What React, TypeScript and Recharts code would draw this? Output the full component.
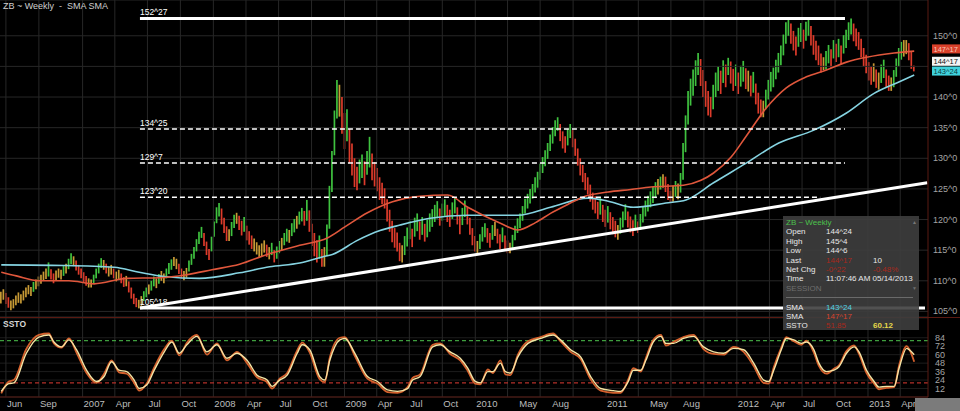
import React from 'react';
import {
  ComposedChart,
  Bar,
  Cell,
  Line,
  XAxis,
  YAxis,
  CartesianGrid,
  ReferenceLine,
} from 'recharts';

// weekly bars as [low, high]; week 0 = week of 19 May 2006
const bars2006: [number, number][] = [
  [106.3, 108.2], [106.9, 108.6], [106.2, 108.0], [105.6, 107.3], [105.2, 106.8], [105.5, 107.0], [106.0, 107.6], [106.4, 108.1], [106.3, 107.8], [106.8, 108.4],
  [107.3, 108.9], [107.8, 109.3], [107.5, 109.0], [108.2, 109.8], [108.6, 110.2], [109.1, 110.7], [109.5, 111.0], [110.0, 111.5], [110.3, 112.0], [110.7, 113.0],
  [110.2, 111.9], [109.6, 111.2], [110.1, 111.7], [110.5, 112.0], [110.2, 111.8], [110.8, 112.4], [111.2, 112.8], [111.9, 113.6], [112.7, 114.5], [112.4, 114.0],
  [111.7, 113.3], [111.0, 112.6], [110.4, 112.0],
];
const bars2007: [number, number][] = [
  [109.8, 111.4], [109.2, 110.8], [108.9, 110.4], [108.9, 110.2], [109.5, 111.0], [110.4, 112.0], [111.2, 112.8], [112.1, 113.7], [111.8, 113.4], [111.2, 112.8],
  [110.7, 112.3], [111.0, 112.6], [110.4, 112.0], [109.9, 111.5], [110.2, 111.8], [109.6, 111.2], [109.0, 110.6], [109.1, 110.8], [108.1, 109.9], [107.1, 108.9],
  [106.2, 107.9], [105.7, 107.2], [105.5, 106.9], [105.9, 107.5], [106.7, 108.3], [107.3, 108.9], [107.8, 109.4], [108.4, 110.0], [109.1, 110.7], [108.8, 110.4],
  [109.5, 111.1], [110.0, 111.6], [109.6, 111.2], [110.4, 112.0], [111.1, 112.9], [111.8, 113.5], [112.4, 113.9], [111.9, 113.6], [111.1, 112.8], [110.4, 112.0],
  [110.1, 111.6], [110.5, 112.1], [111.5, 113.3], [112.6, 114.4], [113.6, 115.5], [114.8, 116.8], [116.0, 118.0], [117.0, 118.8], [115.7, 117.8], [114.2, 116.4],
  [113.4, 115.2], [114.8, 117.2],
];
const bars2008: [number, number][] = [
  [117.2, 119.7], [119.4, 122.0], [120.5, 122.7], [119.2, 121.8], [117.8, 120.3], [116.5, 118.9], [116.5, 118.4], [117.3, 119.6], [118.6, 120.8], [119.3, 121.1],
  [118.3, 120.6], [117.4, 119.8], [118.0, 120.4], [116.6, 119.0], [115.9, 118.1], [115.2, 117.4], [114.8, 116.9], [114.3, 116.3], [113.9, 115.8], [114.0, 116.1],
  [114.6, 116.6], [113.9, 115.9], [113.5, 115.5], [114.2, 116.2], [113.0, 115.0], [113.6, 115.6], [114.5, 116.5], [115.0, 117.0], [115.8, 117.8], [116.4, 118.5],
  [116.2, 118.3], [117.3, 119.4], [117.9, 120.1], [118.5, 120.6], [119.2, 121.3], [119.7, 121.9], [119.0, 121.4], [119.8, 123.2], [118.0, 121.5], [115.7, 119.3],
  [114.0, 117.8], [113.0, 116.6], [113.6, 117.4], [112.3, 115.2], [112.3, 115.5], [114.0, 119.2], [118.5, 125.5], [124.5, 131.2], [130.5, 137.8], [136.5, 142.8],
  [136.8, 142.0], [134.0, 140.0],
];
const bars2009: [number, number][] = [
  [131.5, 137.4], [132.8, 138.0], [129.2, 134.8], [127.2, 132.4], [125.3, 130.0], [124.8, 128.6], [125.9, 129.8], [126.8, 130.6], [125.6, 129.5], [127.3, 131.2],
  [128.5, 133.5], [126.4, 130.8], [125.4, 129.4], [124.6, 128.4], [123.2, 126.9], [122.5, 126.0], [121.8, 125.1], [119.7, 123.3], [118.0, 121.6], [116.3, 119.8],
  [115.4, 118.6], [114.8, 117.9], [113.2, 116.2], [113.0, 115.8], [114.2, 117.3], [115.6, 118.7], [116.8, 119.8], [115.5, 118.5], [117.2, 120.3], [118.1, 121.0],
  [116.7, 119.7], [117.5, 120.4], [116.4, 119.3], [117.1, 120.0], [118.0, 121.0], [118.8, 121.7], [119.6, 122.4], [120.2, 123.0], [119.0, 121.8], [119.8, 122.6],
  [120.6, 123.3], [119.6, 122.4], [118.8, 121.6], [120.1, 122.8], [121.0, 123.6], [119.2, 122.0], [117.6, 120.6], [119.1, 121.9], [120.4, 123.1], [119.2, 122.0],
  [117.5, 120.3], [115.8, 118.6],
];
const bars2010: [number, number][] = [
  [114.8, 117.3], [114.5, 116.5], [115.2, 117.6], [116.4, 118.8], [117.1, 119.4], [116.2, 118.6], [115.4, 117.8], [116.7, 119.1], [117.3, 119.6], [116.1, 118.5],
  [115.2, 117.6], [116.3, 118.7], [115.0, 117.4], [114.5, 116.6], [114.5, 116.2], [115.2, 117.5], [116.6, 119.0], [117.8, 120.2], [118.6, 121.0], [119.8, 122.2],
  [121.0, 123.4], [121.8, 124.2], [122.6, 125.0], [123.4, 125.8], [124.4, 126.9], [125.2, 127.8], [126.5, 129.1], [127.6, 130.2], [128.7, 131.3], [129.9, 132.5],
  [131.2, 133.9], [132.4, 135.1], [133.6, 136.2], [134.5, 136.7], [132.8, 135.6], [131.6, 134.4], [130.9, 133.6], [132.1, 134.8], [133.3, 135.6], [131.8, 134.6],
  [130.4, 133.2], [128.8, 131.6], [127.2, 130.0], [126.1, 128.9], [124.8, 127.6], [124.1, 126.9], [122.9, 125.7], [121.6, 124.4], [121.0, 123.8], [120.1, 122.9],
  [120.8, 123.5], [119.6, 122.4],
];
const bars2011: [number, number][] = [
  [118.8, 121.6], [119.5, 122.2], [118.4, 121.2], [117.6, 120.4], [117.1, 119.8], [116.7, 119.1], [117.7, 120.3], [118.7, 121.3], [119.9, 122.5], [118.7, 121.3],
  [117.9, 120.5], [117.3, 119.9], [118.2, 120.8], [117.8, 119.7], [118.3, 120.9], [119.5, 122.1], [120.5, 123.1], [121.3, 123.9], [122.0, 124.6], [122.7, 125.3],
  [123.5, 126.1], [124.1, 126.6], [124.9, 127.0], [125.2, 127.4], [124.5, 127.0], [123.2, 125.8], [122.7, 124.7], [122.9, 125.5], [123.7, 126.3], [123.3, 125.9],
  [124.4, 127.6], [126.5, 132.5], [131.0, 137.0], [135.5, 141.0], [138.6, 143.0], [140.2, 144.5], [141.8, 146.0], [143.6, 147.2], [141.8, 146.2], [140.0, 144.4],
  [138.4, 142.6], [137.0, 141.0], [136.7, 140.0], [138.0, 142.0], [140.0, 144.0], [141.0, 145.0], [140.5, 144.3], [142.3, 146.0], [141.6, 145.3], [143.6, 146.4],
  [142.2, 145.8], [141.0, 144.6], [141.8, 145.3],
];
const bars2012: [number, number][] = [
  [140.5, 144.0], [141.7, 145.1], [142.5, 145.9], [141.3, 144.7], [140.9, 144.3], [140.1, 143.5], [140.7, 144.1], [138.8, 142.2], [137.3, 140.7], [136.7, 139.6],
  [136.7, 139.4], [138.0, 141.2], [139.6, 142.8], [140.9, 144.1], [141.6, 144.8], [142.9, 146.1], [144.0, 147.2], [145.2, 148.4], [146.8, 150.2], [148.7, 152.2],
  [150.0, 152.8], [148.7, 152.0], [147.6, 150.8], [146.8, 149.9], [148.2, 151.3], [149.0, 152.1], [147.9, 151.0], [149.2, 152.3], [150.0, 152.8], [148.4, 151.6],
  [146.9, 150.1], [146.0, 149.2], [145.2, 148.4], [144.0, 147.1], [144.4, 146.5], [144.5, 147.5], [145.5, 148.5], [144.8, 147.8], [146.3, 149.3], [145.7, 148.7],
  [146.5, 149.5], [145.4, 148.4], [147.1, 150.1], [148.0, 151.0], [149.3, 152.2], [150.2, 152.8], [149.1, 152.0], [148.3, 151.2], [147.7, 150.6], [146.5, 149.5],
  [145.0, 148.0], [143.9, 146.9],
];
const bars2013: [number, number][] = [
  [142.7, 145.7], [142.0, 145.0], [142.5, 145.5], [141.5, 144.5], [141.2, 144.0], [142.3, 145.3], [143.1, 146.1], [141.5, 144.5], [141.0, 143.5], [141.0, 143.2],
  [141.6, 144.4], [143.3, 146.3], [145.0, 148.0], [146.1, 149.0], [146.6, 149.3], [147.0, 149.3], [146.0, 148.8], [144.6, 147.4], [144.19, 145.13],
];

// moving averages, [week, price]
const smaRed: [number, number][] = [
  [0, 111.4], [6, 110.8], [15, 110.0], [27, 110.0], [37, 109.5], [50, 110.4], [63, 110.5], [74, 111.0], [84, 111.8], [95, 112.7],
  [106, 114.3], [119, 115.8], [130, 117.0], [137, 118.8], [146, 121.1], [156, 122.9], [167, 123.8], [178, 124.0], [186, 122.0], [199, 119.4],
  [206, 118.3], [213, 119.5], [219, 121.0], [226, 122.5], [232, 123.7], [242, 124.5], [251, 124.9], [259, 125.3], [272, 125.6], [279, 126.4],
  [284, 127.6], [291, 130.2], [297, 133.6], [305, 138.2], [313, 141.5], [321, 143.3], [329, 144.4], [337, 145.7], [345, 146.5], [356, 147.2], [364, 147.5],
];
const smaCyan: [number, number][] = [
  [0, 112.6], [25, 112.5], [45, 112.2], [55, 111.4], [65, 110.7], [79, 110.4], [95, 111.3], [107, 112.3], [119, 112.9], [128, 113.9],
  [132, 114.3], [142, 116.6], [151, 118.2], [159, 119.1], [171, 120.2], [186, 120.7], [206, 120.7], [219, 122.0], [234, 123.5], [242, 123.0],
  [252, 122.0], [265, 122.7], [273, 123.2], [284, 126.0], [297, 129.2], [310, 132.5], [324, 134.6], [337, 137.4], [348, 140.6], [357, 142.3], [364, 143.6],
];

// slow stochastic, [week, value]
const sstoSlow: [number, number][] = [
  [0, 8], [3, 19], [5, 20], [10, 62], [15, 85], [19, 88], [21, 78], [24, 71], [27, 81], [30, 67], [34, 38], [38, 22], [41, 29], [44, 50], [47, 38],
  [50, 36], [53, 24], [55, 12], [58, 17], [61, 38], [65, 64], [68, 78], [71, 62], [74, 74], [78, 86], [82, 64], [86, 74], [90, 55], [94, 62], [98, 52],
  [102, 31], [106, 24], [108, 15], [111, 24], [114, 31], [118, 62], [120, 74], [123, 67], [127, 29], [129, 24], [131, 52], [135, 81], [137, 83], [141, 62],
  [146, 29], [150, 22], [154, 10], [158, 8], [162, 12], [164, 24], [167, 29], [172, 71], [175, 74], [179, 64], [183, 55], [186, 41], [189, 22], [191, 20],
  [194, 36], [196, 36], [199, 48], [201, 36], [203, 34], [206, 57], [210, 76], [215, 83], [220, 88], [223, 81], [227, 67], [231, 57], [235, 29], [239, 12],
  [244, 9], [247, 8], [250, 22], [252, 38], [255, 38], [257, 52], [260, 78], [263, 86], [265, 76], [268, 76], [272, 83], [276, 86], [280, 71], [284, 64],
  [288, 62], [292, 69], [296, 67], [300, 48], [304, 24], [306, 22], [308, 38], [311, 67], [313, 83], [316, 81], [319, 76], [321, 78], [324, 67], [326, 48],
  [329, 36], [332, 38], [334, 43], [337, 62], [340, 71], [342, 64], [345, 38], [348, 22], [350, 14], [353, 15], [356, 15], [358, 41], [361, 69], [362, 67], [364, 60],
];
const sstoFast: [number, number][] = [
  [0, 5], [3, 22], [5, 24], [10, 68], [15, 88], [19, 90], [21, 76], [24, 70], [27, 83], [30, 63], [34, 34], [38, 20], [41, 33], [44, 52], [47, 35],
  [50, 33], [53, 20], [55, 9], [58, 19], [61, 42], [65, 68], [68, 80], [71, 59], [74, 77], [78, 88], [82, 60], [86, 76], [90, 52], [94, 64], [98, 48],
  [102, 28], [106, 21], [108, 12], [111, 26], [114, 34], [118, 66], [120, 77], [123, 63], [127, 25], [129, 21], [131, 56], [135, 84], [137, 85], [141, 58],
  [146, 26], [150, 19], [154, 7], [158, 6], [162, 14], [164, 27], [167, 32], [172, 74], [175, 76], [179, 61], [183, 52], [186, 37], [189, 19], [191, 18],
  [194, 39], [196, 34], [199, 52], [201, 32], [203, 31], [206, 60], [210, 79], [215, 85], [220, 90], [223, 79], [227, 64], [231, 54], [235, 25], [239, 9],
  [244, 6], [247, 6], [250, 25], [252, 41], [255, 36], [257, 55], [260, 81], [263, 88], [265, 73], [268, 78], [272, 85], [276, 88], [280, 68], [284, 61],
  [288, 60], [292, 71], [296, 64], [300, 44], [304, 20], [306, 19], [308, 42], [311, 70], [313, 85], [316, 79], [319, 74], [321, 80], [324, 63], [326, 44],
  [329, 33], [332, 40], [334, 45], [337, 65], [340, 73], [342, 61], [345, 34], [348, 19], [350, 11], [353, 13], [356, 14], [358, 45], [361, 72], [362, 68], [364, 50],
];

// 145 sits under the price tags, so it gets a grid line but no label
const priceTicks = [105, 110, 115, 120, 125, 130, 135, 140, 150];
const unlabelledPriceGrid = [145];
const sstoTicks = [12, 24, 36, 48, 60, 72, 84];

const monthLabels = ['Jun', 'Sep', '2007', 'Apr', 'Jul', 'Oct', '2008', 'Apr', 'Jul', 'Oct', '2009', 'Apr', 'Jul', 'Oct',
  '2010', 'May', 'Aug', '2011', 'May', 'Aug', '2012', 'Apr', 'Jul', 'Oct', '2013', 'Apr'];
const monthLabelDates = ['2006-06-01', '2006-09-01', '2007-01-01', '2007-04-01', '2007-07-01', '2007-10-01', '2008-01-01',
  '2008-04-01', '2008-07-01', '2008-10-01', '2009-01-01', '2009-04-01', '2009-07-01', '2009-10-01', '2010-01-01', '2010-05-01',
  '2010-08-01', '2011-01-01', '2011-05-01', '2011-08-01', '2012-01-01', '2012-04-01', '2012-07-01', '2012-10-01', '2013-01-01', '2013-04-01'];
const gridDates = ['2006-06-01', '2006-09-01',
  '2007-01-01', '2007-04-01', '2007-07-01', '2007-10-01', '2008-01-01', '2008-04-01', '2008-07-01', '2008-10-01',
  '2009-01-01', '2009-04-01', '2009-07-01', '2009-10-01', '2010-01-01', '2010-04-01', '2010-07-01', '2010-10-01',
  '2011-01-01', '2011-04-01', '2011-07-01', '2011-10-01', '2012-01-01', '2012-04-01', '2012-07-01', '2012-10-01',
  '2013-01-01', '2013-04-01'];

// drawn levels, starting at the June 2007 low
const levelLabels = ['152^27', '134^25', '129^7', '123^20', '105^18'];
const levelValues = [152.84, 134.78, 129.22, 123.63, 105.56];
const levelEndWeeks = [336.4, 336.4, 336.4, 326.5, 368.3];
const levelSolid = [true, false, false, false, true];
const levelStartWeek = 55.3;
const trendStart = { x: 55.3, y: 105.56 };
const trendEnd = { x: 369.2, y: 126.0 };

const START = Date.UTC(2006, 4, 19);
const toWeek = (iso: string) => (Date.parse(iso) - START) / (7 * 86400000);

const FONT = "'Liberation Sans', Arial, sans-serif";
const AXIS = '#5a1a12';
const GRID = '#272727';
const GREEN = '#3fc23f';
const RED = '#dd3b2b';
const AMBER = '#c79a35';

const ranges = [...bars2006, ...bars2007, ...bars2008, ...bars2009, ...bars2010, ...bars2011, ...bars2012, ...bars2013];
const barData = ranges.map(([lo, hi], i) => {
  const mid = (lo + hi) / 2;
  const prev = i > 0 ? (ranges[i - 1][0] + ranges[i - 1][1]) / 2 : mid;
  const d = mid - prev;
  return { t: i, range: [lo, hi], color: d > 0.55 ? GREEN : d < -0.55 ? RED : AMBER };
});
const toPts = (arr: [number, number][]) => arr.map(([t, v]) => ({ t, v }));
const gridWeeks = gridDates.map(toWeek);
const labelWeeks = monthLabelDates.map(toWeek);

const PriceTick = (p: any) => (
  <text x={p.x + 3} y={p.y + 3} fill="#a4a4a4" fontSize={9} fontFamily={FONT}>{`${p.payload.value}^0`}</text>
);
const SstoTick = (p: any) => (
  <text x={p.x + 5} y={p.y + 3} fill="#a4a4a4" fontSize={9} fontFamily={FONT}>{p.payload.value}</text>
);
const MonthTick = (p: any) => (
  <text x={p.x + 1} y={p.y + 8} fill="#bdbdbd" fontSize={9.5} fontFamily={FONT}>{monthLabels[p.index]}</text>
);

const tag = (text: string, bg: string, fg: string, dy: number) => (p: any) => {
  const vb = p.viewBox;
  const x = vb.x + vb.width + 4;
  const y = vb.y + dy;
  return (
    <g>
      <rect x={x} y={y - 4.5} width={28} height={9} fill={bg} />
      <text x={x + 1.5} y={y + 2.7} fill={fg} fontSize={7.5} fontFamily={FONT}>{text}</text>
    </g>
  );
};

const row: React.CSSProperties = { height: 9.4, lineHeight: '9.4px', position: 'relative', whiteSpace: 'nowrap' };
const c2: React.CSSProperties = { position: 'absolute', left: 40 };
const c3: React.CSSProperties = { position: 'absolute', left: 87 };

export default function App() {
  return (
    <div style={{ position: 'relative', width: 960, height: 411, background: '#000', overflow: 'hidden' }}>
      <style>{'body{margin:0;background:#000}'}</style>
      <ComposedChart width={960} height={317} data={barData} margin={{ top: 0, right: 0, bottom: 0, left: 0 }}>
        <CartesianGrid vertical={false} stroke={GRID} />
        <XAxis type="number" dataKey="t" domain={[-0.5, 369.5]} hide allowDataOverflow />
        <YAxis orientation="right" width={32} domain={[104.09, 155.84]} ticks={priceTicks} interval={0}
          allowDataOverflow tick={PriceTick} tickLine={false} tickSize={0} axisLine={{ stroke: AXIS }} />
        {unlabelledPriceGrid.map((v) => <ReferenceLine key={'h' + v} y={v} stroke={GRID} />)}
        {gridWeeks.map((w) => <ReferenceLine key={'g' + w} x={w} stroke={GRID} />)}
        <Bar dataKey="range" barSize={1.7} isAnimationActive={false}>
          {barData.map((d) => <Cell key={d.t} fill={d.color} />)}
        </Bar>
        <Line data={toPts(smaCyan)} dataKey="v" type="monotone" stroke="#86d4e2" strokeWidth={1.6}
          dot={false} activeDot={false} isAnimationActive={false} />
        <Line data={toPts(smaRed)} dataKey="v" type="monotone" stroke="#e0573c" strokeWidth={1.6}
          dot={false} activeDot={false} isAnimationActive={false} />
        {levelValues.map((v, i) => (
          <ReferenceLine key={'lv' + i}
            segment={[{ x: levelStartWeek, y: v }, { x: levelEndWeeks[i], y: v }]}
            stroke="#ffffff" strokeWidth={levelSolid[i] ? 3 : 1.6}
            strokeDasharray={levelSolid[i] ? undefined : '5 3'}
            label={(p: any) => (
              <text x={p.viewBox.x} y={p.viewBox.y - 3} fill="#ffffff" fontSize={8.5} fontFamily={FONT}>{levelLabels[i]}</text>
            )} />
        ))}
        <ReferenceLine segment={[trendStart, trendEnd]} stroke="#ffffff" strokeWidth={3} />
        <ReferenceLine y={147.53} stroke="none" label={tag('147^17', '#d9402a', '#f6c7b8', -2)} />
        <ReferenceLine y={144.53} stroke="none" label={tag('144^17', '#f4f4f4', '#111111', -8)} />
        <ReferenceLine y={143.75} stroke="none" label={tag('143^24', '#3fd2dc', '#0d3a40', -3)} />
      </ComposedChart>

      <div style={{ borderTop: `1px solid ${AXIS}`, height: 93 }}>
        <ComposedChart width={960} height={93} margin={{ top: 0, right: 0, bottom: 0, left: 0 }}>
          <CartesianGrid vertical={false} stroke="#1c1c1c" />
          <XAxis type="number" dataKey="t" domain={[-0.5, 369.5]} ticks={labelWeeks} interval={0} allowDataOverflow
            tick={MonthTick} tickLine={false} tickSize={0} height={14} axisLine={{ stroke: AXIS }} />
          <YAxis orientation="right" width={32} domain={[0, 112]} ticks={sstoTicks} interval={0}
            tick={SstoTick} tickLine={false} tickSize={0} axisLine={{ stroke: AXIS }} />
          {gridWeeks.map((w) => <ReferenceLine key={'s' + w} x={w} stroke={GRID} />)}
          <ReferenceLine y={80} stroke="#3e9e3e" strokeWidth={1.3} strokeDasharray="4 3" />
          <ReferenceLine y={20} stroke="#b3302a" strokeWidth={1.3} strokeDasharray="4 3" />
          <Line data={toPts(sstoFast)} dataKey="v" type="monotone" stroke="#d4602c" strokeWidth={1.8}
            dot={false} activeDot={false} isAnimationActive={false} />
          <Line data={toPts(sstoSlow)} dataKey="v" type="monotone" stroke="#f5e4a4" strokeWidth={1.4}
            dot={false} activeDot={false} isAnimationActive={false} />
        </ComposedChart>
      </div>

      <div style={{ position: 'absolute', left: 3, top: 1, color: '#cfcfcf', font: `9px ${FONT}` }}>ZB ~ Weekly&nbsp;&nbsp;-&nbsp;&nbsp;SMA SMA</div>
      <div style={{ position: 'absolute', left: 3, top: 319, color: '#d6d6d6', font: `bold 8.5px ${FONT}` }}>SSTO</div>
      <div style={{ position: 'absolute', left: 915, top: 398, width: 45, height: 13, background: '#7b7b7b' }} />

      <div style={{ position: 'absolute', left: 783, top: 216, width: 136, height: 114, background: 'rgba(62,62,62,0.9)',
        paddingTop: 2, boxSizing: 'border-box', font: `8px ${FONT}`, color: '#e8e8e8', paddingLeft: 3 }}>
        <div style={{ ...row, color: '#4cc24c' }}>ZB ~ Weekly<span style={{ position: 'absolute', left: 126, color: '#777', fontSize: 5 }}>▲</span></div>
        <div style={row}>Open<span style={c2}>144^24</span></div>
        <div style={row}>High<span style={c2}>145^4</span></div>
        <div style={row}>Low<span style={c2}>144^6</span></div>
        <div style={row}>Last<span style={{ ...c2, color: '#a8281c' }}>144^17</span><span style={c3}>10</span></div>
        <div style={row}>Net Chg<span style={{ ...c2, color: '#a8281c' }}>-0^22</span><span style={{ ...c3, color: '#a8281c' }}>-0.48%</span></div>
        <div style={row}>Time<span style={c2}>11:07:46 AM 05/14/2013</span></div>
        <div style={{ ...row, color: '#6e6e6e' }}>SESSION<span style={{ position: 'absolute', left: 126, fontSize: 5 }}>▼</span></div>
        <div style={row}><div style={{ position: 'absolute', left: 0, right: 6, top: 4, borderTop: '1px solid #6a6a6a' }} /></div>
        <div style={row}>SMA<span style={{ ...c2, color: '#4fd2e2' }}>143^24</span></div>
        <div style={row}>SMA<span style={{ ...c2, color: '#d8442e' }}>147^17</span></div>
        <div style={row}>SSTO<span style={{ ...c2, color: '#a8281c' }}>51.85</span><span style={{ ...c3, color: '#e6d84a', fontWeight: 'bold' }}>60.12</span></div>
      </div>
    </div>
  );
}
